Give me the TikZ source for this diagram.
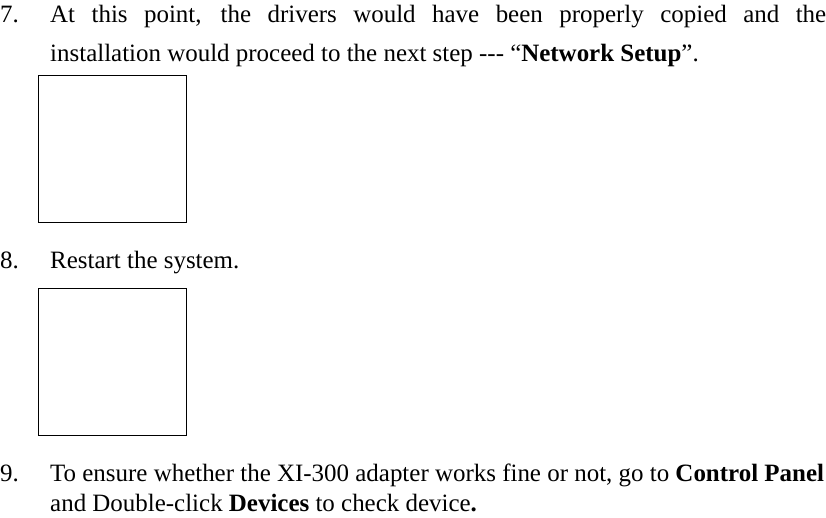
\documentclass[tikz,border=0pt]{standalone}
\usepackage{fontspec}
\setmainfont{Liberation Serif}
\begin{document}
\begin{tikzpicture}[x=1pt,y=1pt,
  txt/.style={anchor=base west,inner sep=0pt,font=\fontsize{24.95}{39}\selectfont},
  shot/.style={draw,line width=1pt}]
\useasboundingbox (0,0) rectangle (826,-517);
\node[txt] (n7) at (0,-22) {7.};
\node[txt] (t7) at (50,-22) {\hbox to 776pt{At this point, the drivers would have been properly copied and the}};
\node[txt] (t7b) at (50,-61) {installation would proceed to the next step -{}-{}- “\textbf{Network Setup}”.};
\node[shot,minimum width=148pt,minimum height=147pt,anchor=north west,inner sep=0pt] (b1) at (37.5,-74.5) {};
\node[txt] (n8) at (0,-268) {8.};
\node[txt] (t8) at (50,-268) {Restart the system.};
\node[shot,minimum width=148pt,minimum height=147pt,anchor=north west,inner sep=0pt] (b2) at (37.5,-287.5) {};
\node[txt] (n9) at (0,-481) {9.};
\node[txt] (t9) at (50,-481) {To ensure whether the XI-300 adapter works fine or not, go to \textbf{Control Panel}};
\node[txt] (t9b) at (50,-511) {and Double-click \textbf{Devices} to check device\textbf{.}};
\end{tikzpicture}
\end{document}
